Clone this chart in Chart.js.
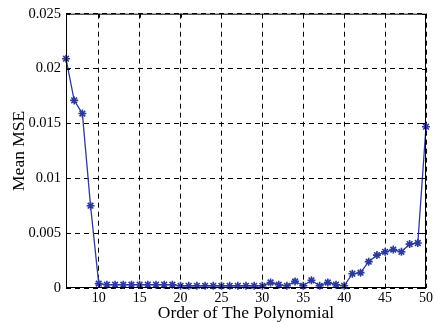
<!DOCTYPE html>
<html lang="en">
<head>
    <meta charset="UTF-8">
    <title>Mean MSE vs Order</title>
    <script src="https://cdn.jsdelivr.net/npm/chart.js"></script>
    <style>
        html, body { margin: 0; padding: 0; background: #ffffff; }
        #wrap { width: 435px; height: 322px; }
    </style>
</head>
<body>
    <div id="wrap"><canvas id="mseChart" width="435" height="322"></canvas></div>

    <script>
        // polynomial order and mean MSE
        const orders = [6, 7, 8, 9, 10, 11, 12, 13, 14, 15, 16, 17, 18, 19, 20,
            21, 22, 23, 24, 25, 26, 27, 28, 29, 30, 31, 32, 33, 34, 35,
            36, 37, 38, 39, 40, 41, 42, 43, 44, 45, 46, 47, 48, 49, 50];
        const meanMse = [0.0209, 0.0171, 0.0159, 0.0075, 0.0004, 0.0003, 0.0003, 0.0003, 0.0003, 0.0003,
            0.0003, 0.0003, 0.0003, 0.0003, 0.0002, 0.0002, 0.0002, 0.0002, 0.0002, 0.0002,
            0.0002, 0.0002, 0.0002, 0.0002, 0.0002, 0.0005, 0.0003, 0.0002, 0.0006, 0.0002,
            0.0007, 0.0002, 0.0005, 0.0003, 0.0002, 0.0013, 0.0014, 0.0024, 0.0030, 0.0033,
            0.0035, 0.0033, 0.0040, 0.0041, 0.0147];
        const xTicks = [10, 15, 20, 25, 30, 35, 40, 45, 50];
        const yTicks = [0, 0.005, 0.01, 0.015, 0.02, 0.025];

        const serif = "'Liberation Serif', 'DejaVu Serif', serif";

        // box round the plot plus inward tick marks, like the matlab axes
        const boxPlugin = {
            id: "box",
            afterDraw(chart) {
                const { ctx, chartArea: a, scales } = chart;
                ctx.save();
                ctx.strokeStyle = "#000";
                ctx.lineWidth = 1;
                ctx.setLineDash([]);
                ctx.strokeRect(a.left + 0.5, a.top + 0.5, a.right - a.left - 1, a.bottom - a.top - 1);
                ctx.beginPath();
                xTicks.forEach(v => {
                    const x = Math.round(scales.x.getPixelForValue(v)) + 0.5;
                    ctx.moveTo(x, a.bottom); ctx.lineTo(x, a.bottom - 4);
                    ctx.moveTo(x, a.top); ctx.lineTo(x, a.top + 4);
                });
                yTicks.forEach(v => {
                    const y = Math.round(scales.y.getPixelForValue(v)) + 0.5;
                    ctx.moveTo(a.left, y); ctx.lineTo(a.left + 4, y);
                    ctx.moveTo(a.right, y); ctx.lineTo(a.right - 4, y);
                });
                ctx.stroke();
                ctx.restore();
            }
        };

        new Chart(document.getElementById("mseChart"), {
            type: "line",
            data: {
                datasets: [{
                    label: "Mean MSE",
                    data: orders.map((o, i) => ({ x: o, y: meanMse[i] })),
                    borderColor: "#2c3a9c",
                    backgroundColor: "#2c3a9c",
                    borderWidth: 1.3,
                    pointStyle: "star",
                    pointRadius: 4,
                    pointBorderWidth: 1.6,
                    tension: 0,
                    clip: false
                }]
            },
            options: {
                responsive: false,
                animation: false,
                layout: { padding: { top: 13, right: 7, left: 0, bottom: 0 } },
                plugins: { legend: { display: false }, tooltip: { enabled: false } },
                scales: {
                    x: {
                        type: "linear",
                        min: 6,
                        max: 50,
                        afterBuildTicks: s => { s.ticks = xTicks.map(v => ({ value: v })); },
                        afterFit: s => { s.height = 34; },
                        grid: { color: "#000", lineWidth: 1, drawTicks: false },
                        border: { display: false, dash: [5, 4] },
                        ticks: { color: "#000", font: { family: serif, size: 14 }, padding: 2, maxRotation: 0 },
                        title: { display: true, text: "Order of The Polynomial", color: "#000",
                            font: { family: serif, size: 17.5 }, padding: { top: -6, bottom: -2 } }
                    },
                    y: {
                        min: 0,
                        max: 0.025,
                        afterBuildTicks: s => { s.ticks = yTicks.map(v => ({ value: v })); },
                        afterFit: s => { s.width = 66; },
                        grid: { color: "#000", lineWidth: 1, drawTicks: false },
                        border: { display: false, dash: [5, 4] },
                        ticks: {
                            color: "#000", font: { family: serif, size: 14.5 }, padding: 5,
                            callback: v => String(Number(v.toFixed(3)))
                        },
                        title: { display: true, text: "Mean MSE", color: "#000",
                            font: { family: serif, size: 17.5 }, padding: { top: 9, bottom: 0 } }
                    }
                }
            },
            plugins: [boxPlugin]
        });
    </script>
</body>
</html>
